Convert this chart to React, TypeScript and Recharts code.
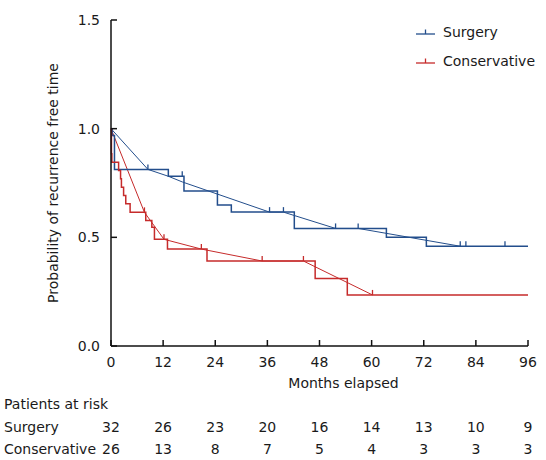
import {
  ComposedChart,
  Line,
  Scatter,
  XAxis,
  YAxis,
} from 'recharts';

const months = [0, 12, 24, 36, 48, 60, 72, 84, 96];
const riskSurgery = [32, 26, 23, 20, 16, 14, 13, 10, 9];
const riskConservative = [26, 13, 8, 7, 5, 4, 3, 3, 3];
const yTicks = [0, 0.5, 1.0, 1.5];

// Kaplan-Meier steps
const surgeryStepT = [0, 0.3, 0.8, 13.2, 16.8, 24.5, 27.7, 42.2, 63.4, 72.6, 96];
const surgeryStepS = [1.0, 0.969, 0.8125, 0.781, 0.713, 0.649, 0.616, 0.541, 0.5, 0.459, 0.459];
const consStepT = [0, 0.1, 0.2, 1.75, 2.2, 2.4, 2.9, 3.4, 4.4, 8.0, 9.4, 10.0, 13.0, 22.1, 47.0, 54.4, 96];
const consStepS = [1.0, 0.885, 0.846, 0.808, 0.769, 0.731, 0.692, 0.654, 0.615, 0.577, 0.546, 0.491, 0.446, 0.391, 0.311, 0.235, 0.235];

// censored observations
const surgeryCensorT = [8.5, 16.4, 36.5, 39.7, 51.7, 56.9, 80.4, 81.7, 90.7];
const surgeryCensorS = [0.8125, 0.781, 0.616, 0.616, 0.541, 0.541, 0.459, 0.459, 0.459];
const consCensorT = [7.7, 12.2, 20.8, 34.8, 44.3, 60.2];
const consCensorS = [0.615, 0.491, 0.446, 0.391, 0.391, 0.235];

// thin connecting lines
const surgeryLineT = [0, 8.5, 13.2, 16.4, 36.5, 39.7, 51.7, 56.9, 80.4];
const surgeryLineS = [1.0, 0.8125, 0.781, 0.755, 0.616, 0.616, 0.541, 0.541, 0.459];
const consLineT = [0, 7.7, 12.2, 20.8, 34.8, 44.3, 60.2];
const consLineS = [1.0, 0.615, 0.491, 0.446, 0.391, 0.391, 0.235];

const BLUE = '#234e8c';
const RED = '#c62b2b';
const FONT = 'DejaVu Sans';
const txt = { fontFamily: FONT, fontSize: 14, fill: '#1a1a1a' };

const pairs = (t: number[], s: number[]) => t.map((v, i) => ({ t: v, s: s[i] }));

const censorShape = (color: string) => (p: any) => (
  <line x1={p.cx} y1={p.cy} x2={p.cx} y2={p.cy - 5} stroke={color} strokeWidth={1.3} />
);

// month label plus the two at-risk counts under each tick
function MonthTick(p: any) {
  const i = months.indexOf(p.payload.value);
  return (
    <g>
      <text x={p.x} y={p.y} dy="0.71em" textAnchor="middle" {...txt}>
        {p.payload.value}
      </text>
      <text x={p.x} y={p.y + 65} dy="0.71em" textAnchor="middle" {...txt}>
        {riskSurgery[i]}
      </text>
      <text x={p.x} y={p.y + 87} dy="0.71em" textAnchor="middle" {...txt}>
        {riskConservative[i]}
      </text>
    </g>
  );
}

function XLabels(p: any) {
  const vb = p.viewBox || {};
  return (
    <g>
      <text x={vb.x + vb.width / 2 + 24} y={vb.y + 37} textAnchor="middle" dominantBaseline="central" {...txt}>
        Months elapsed
      </text>
      <text x={4} y={vb.y + 58} dominantBaseline="central" {...txt}>Patients at risk</text>
      <text x={4} y={vb.y + 81} dominantBaseline="central" {...txt}>Surgery</text>
      <text x={4} y={vb.y + 103} dominantBaseline="central" {...txt}>Conservative</text>
    </g>
  );
}

function LegendMark({ color }: { color: string }) {
  return (
    <svg width={20} height={10} style={{ marginRight: 8 }}>
      <line x1={1} y1={7} x2={20} y2={7} stroke={color} strokeWidth={1.3} />
      <line x1={10.5} y1={7} x2={10.5} y2={2.5} stroke={color} strokeWidth={1.3} />
    </svg>
  );
}

export default function App() {
  return (
    <div style={{ position: 'absolute', left: 0, top: 0, width: 546, height: 460, background: '#fff' }}>
      <ComposedChart width={546} height={460} margin={{ top: 20, right: 18, left: 0, bottom: 0 }}>
        <XAxis
          dataKey="t"
          type="number"
          domain={[0, 96]}
          ticks={months}
          tickSize={-6}
          tickMargin={17}
          height={114}
          stroke="#111"
          strokeWidth={1.5}
          tick={<MonthTick />}
          label={<XLabels />}
        />
        <YAxis
          dataKey="s"
          type="number"
          domain={[0, 1.5]}
          ticks={yTicks}
          width={111}
          tickSize={-6}
          tickMargin={17}
          stroke="#111"
          strokeWidth={1.5}
          tick={{ ...txt }}
          tickFormatter={(v: number) => v.toFixed(1)}
          label={{
            value: 'Probability of recurrence free time',
            angle: -90,
            position: 'center',
            dx: -2,
            style: { ...txt, textAnchor: 'middle' },
          }}
        />
        <Line
          data={pairs(surgeryLineT, surgeryLineS)}
          dataKey="s"
          type="linear"
          stroke={BLUE}
          strokeWidth={1}
          dot={false}
          isAnimationActive={false}
        />
        <Line
          data={pairs(consLineT, consLineS)}
          dataKey="s"
          type="linear"
          stroke={RED}
          strokeWidth={1}
          dot={false}
          isAnimationActive={false}
        />
        <Line
          data={pairs(surgeryStepT, surgeryStepS)}
          dataKey="s"
          type="stepAfter"
          stroke={BLUE}
          strokeWidth={1.5}
          dot={false}
          isAnimationActive={false}
        />
        <Line
          data={pairs(consStepT, consStepS)}
          dataKey="s"
          type="stepAfter"
          stroke={RED}
          strokeWidth={1.5}
          dot={false}
          isAnimationActive={false}
        />
        <Scatter
          data={pairs(surgeryCensorT, surgeryCensorS)}
          dataKey="s"
          shape={censorShape(BLUE)}
          isAnimationActive={false}
        />
        <Scatter
          data={pairs(consCensorT, consCensorS)}
          dataKey="s"
          shape={censorShape(RED)}
          isAnimationActive={false}
        />
      </ComposedChart>
      <div style={{ position: 'absolute', left: 415, top: 22, fontFamily: FONT, fontSize: 14, color: '#1a1a1a', lineHeight: '20px' }}>
        <div style={{ display: 'flex', alignItems: 'center', height: 20 }}>
          <LegendMark color={BLUE} />
          Surgery
        </div>
        <div style={{ display: 'flex', alignItems: 'center', height: 20, marginTop: 8.5 }}>
          <LegendMark color={RED} />
          Conservative
        </div>
      </div>
    </div>
  );
}
